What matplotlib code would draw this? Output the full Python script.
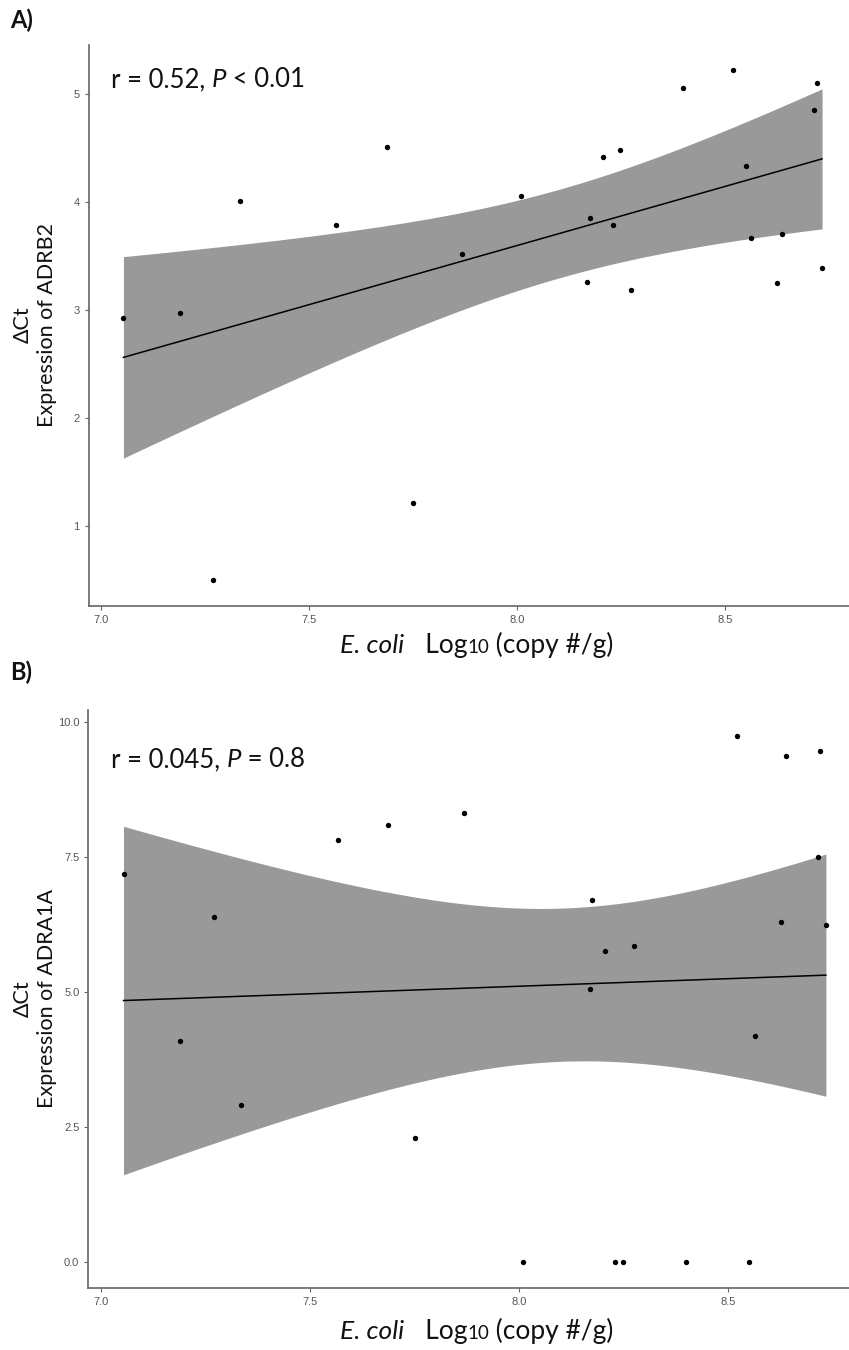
import numpy as np
import matplotlib
matplotlib.use("Agg")
import matplotlib.pyplot as plt

plt.rcParams['font.family'] = ['Lato', 'DejaVu Sans']

ecoli = [7.054, 7.19, 7.27, 7.335, 7.566, 7.687, 7.75, 7.867, 8.01, 8.168, 8.175, 8.206,
         8.23, 8.248, 8.274, 8.398, 8.52, 8.55, 8.563, 8.625, 8.637, 8.713, 8.72, 8.733]
adrb2 = [2.93, 2.97, 0.50, 4.01, 3.79, 4.51, 1.21, 3.52, 4.06, 3.26, 3.85, 4.42,
         3.79, 4.48, 3.19, 5.06, 5.22, 4.33, 3.67, 3.25, 3.70, 4.85, 5.10, 3.39]
adra1a = [7.19, 4.09, 6.39, 2.91, 7.81, 8.09, 2.30, 8.31, 0.0, 5.06, 6.70, 5.76,
          0.0, 0.0, 5.85, 0.0, 9.74, 0.0, 4.19, 6.30, 9.37, 7.50, 9.46, 6.24]

panels = ["A)", "B)"]
genes = ["ADRB2", "ADRA1A"]
stats = [("0.52", "<", "0.01"), ("0.045", "=", "0.8")]
yticks = [[1, 2, 3, 4, 5], [0.0, 2.5, 5.0, 7.5, 10.0]]
ytick_labels = [["1", "2", "3", "4", "5"], ["0.0", "2.5", "5.0", "7.5", "10.0"]]
xticks = [7.0, 7.5, 8.0, 8.5]
xtick_labels = ["7.0", "7.5", "8.0", "8.5"]

T_975 = 2.074  # t quantile, df = 22

W, H = 849, 1350
fig = plt.figure(figsize=(W / 100, H / 100), dpi=100)
TXT = "#111111"

# pixel boxes (left, top, right, bottom)
boxes = [(88.5, 44.8, 857, 605.5), (88.4, 710, 861, 1288)]
stat_base = [87, 767]
xlab_base = [653, 1339]
panel_base = [28, 680]


def lm_band(x, y):
    x = np.asarray(x); y = np.asarray(y)
    n = len(x)
    b, a = np.polyfit(x, y, 1)
    res = y - (a + b * x)
    s = np.sqrt(np.sum(res ** 2) / (n - 2))
    sxx = np.sum((x - x.mean()) ** 2)
    xs = np.linspace(x.min(), x.max(), 80)
    fit = a + b * xs
    se = s * np.sqrt(1 / n + (xs - x.mean()) ** 2 / sxx)
    return xs, fit, fit - T_975 * se, fit + T_975 * se


def pieces(px, py, parts, ha="center"):
    # parts: (text, style, fontsize); px, py in pixels from top-left, py = baseline
    r = fig.canvas.get_renderer()
    objs = []
    for txt, style, fs in parts:
        objs.append(fig.text(0, 0, txt, fontsize=fs, style=style, va="baseline",
                             ha="left", color=TXT))
    widths = [o.get_window_extent(r).width for o in objs]
    cx = px - (sum(widths) / 2 if ha == "center" else 0)
    for o, w in zip(objs, widths):
        o.set_position((cx / W, 1 - py / H))
        cx += w


for i, yv in enumerate([adrb2, adra1a]):
    l, t, rgt, b = boxes[i]
    ax = fig.add_axes([l / W, 1 - b / H, (rgt - l) / W, (b - t) / H])
    xs, fit, lo, hi = lm_band(ecoli, yv)
    ax.fill_between(xs, lo, hi, color="#999999", lw=0, zorder=1)
    ax.plot(xs, fit, color="black", lw=1.1, zorder=2)
    ax.scatter(ecoli, yv, s=15, color="black", lw=0, zorder=3)

    xr = max(ecoli) - min(ecoli)
    ax.set_xlim(min(ecoli) - 0.05 * xr, max(ecoli) + 0.05 * xr)
    yr = max(yv) - min(yv)
    ax.set_ylim(min(yv) - 0.05 * yr, max(yv) + 0.05 * yr)

    for s in ["top", "right"]:
        ax.spines[s].set_visible(False)
    for s in ["left", "bottom"]:
        ax.spines[s].set_color("#666666")
        ax.spines[s].set_linewidth(1.2)
    ax.set_xticks(xticks)
    ax.set_xticklabels(xtick_labels, family="Liberation Sans")
    ax.set_yticks(yticks[i])
    ax.set_yticklabels(ytick_labels[i], family="Liberation Sans")
    ax.tick_params(colors="#666666", labelcolor="#555555", labelsize=8,
                   length=3, width=0.8)

    # y label at a fixed place for both panels
    fig.text(35 / W, 1 - (t + b) / 2 / H, "ΔCt\nExpression of " + genes[i],
             fontsize=15.5, color=TXT, rotation=90, ha="center", va="center",
             multialignment="center", linespacing=1.25)

    rr, op, pv = stats[i]
    pieces(111, stat_base[i], [("r = " + rr + ", ", "normal", 18.5),
                               ("P", "italic", 18.5),
                               (" " + op + " " + pv, "normal", 18.5)], ha="left")

    pieces(477, xlab_base[i], [("E. coli", "italic", 19),
                               ("   Log", "normal", 19),
                               ("10", "normal", 13.5),
                               (" (copy #/g)", "normal", 19)])

    fig.text(10 / W, 1 - panel_base[i] / H, panels[i], fontsize=17,
             weight="bold", color=TXT, va="baseline")

fig.savefig("out.png", dpi=100)
